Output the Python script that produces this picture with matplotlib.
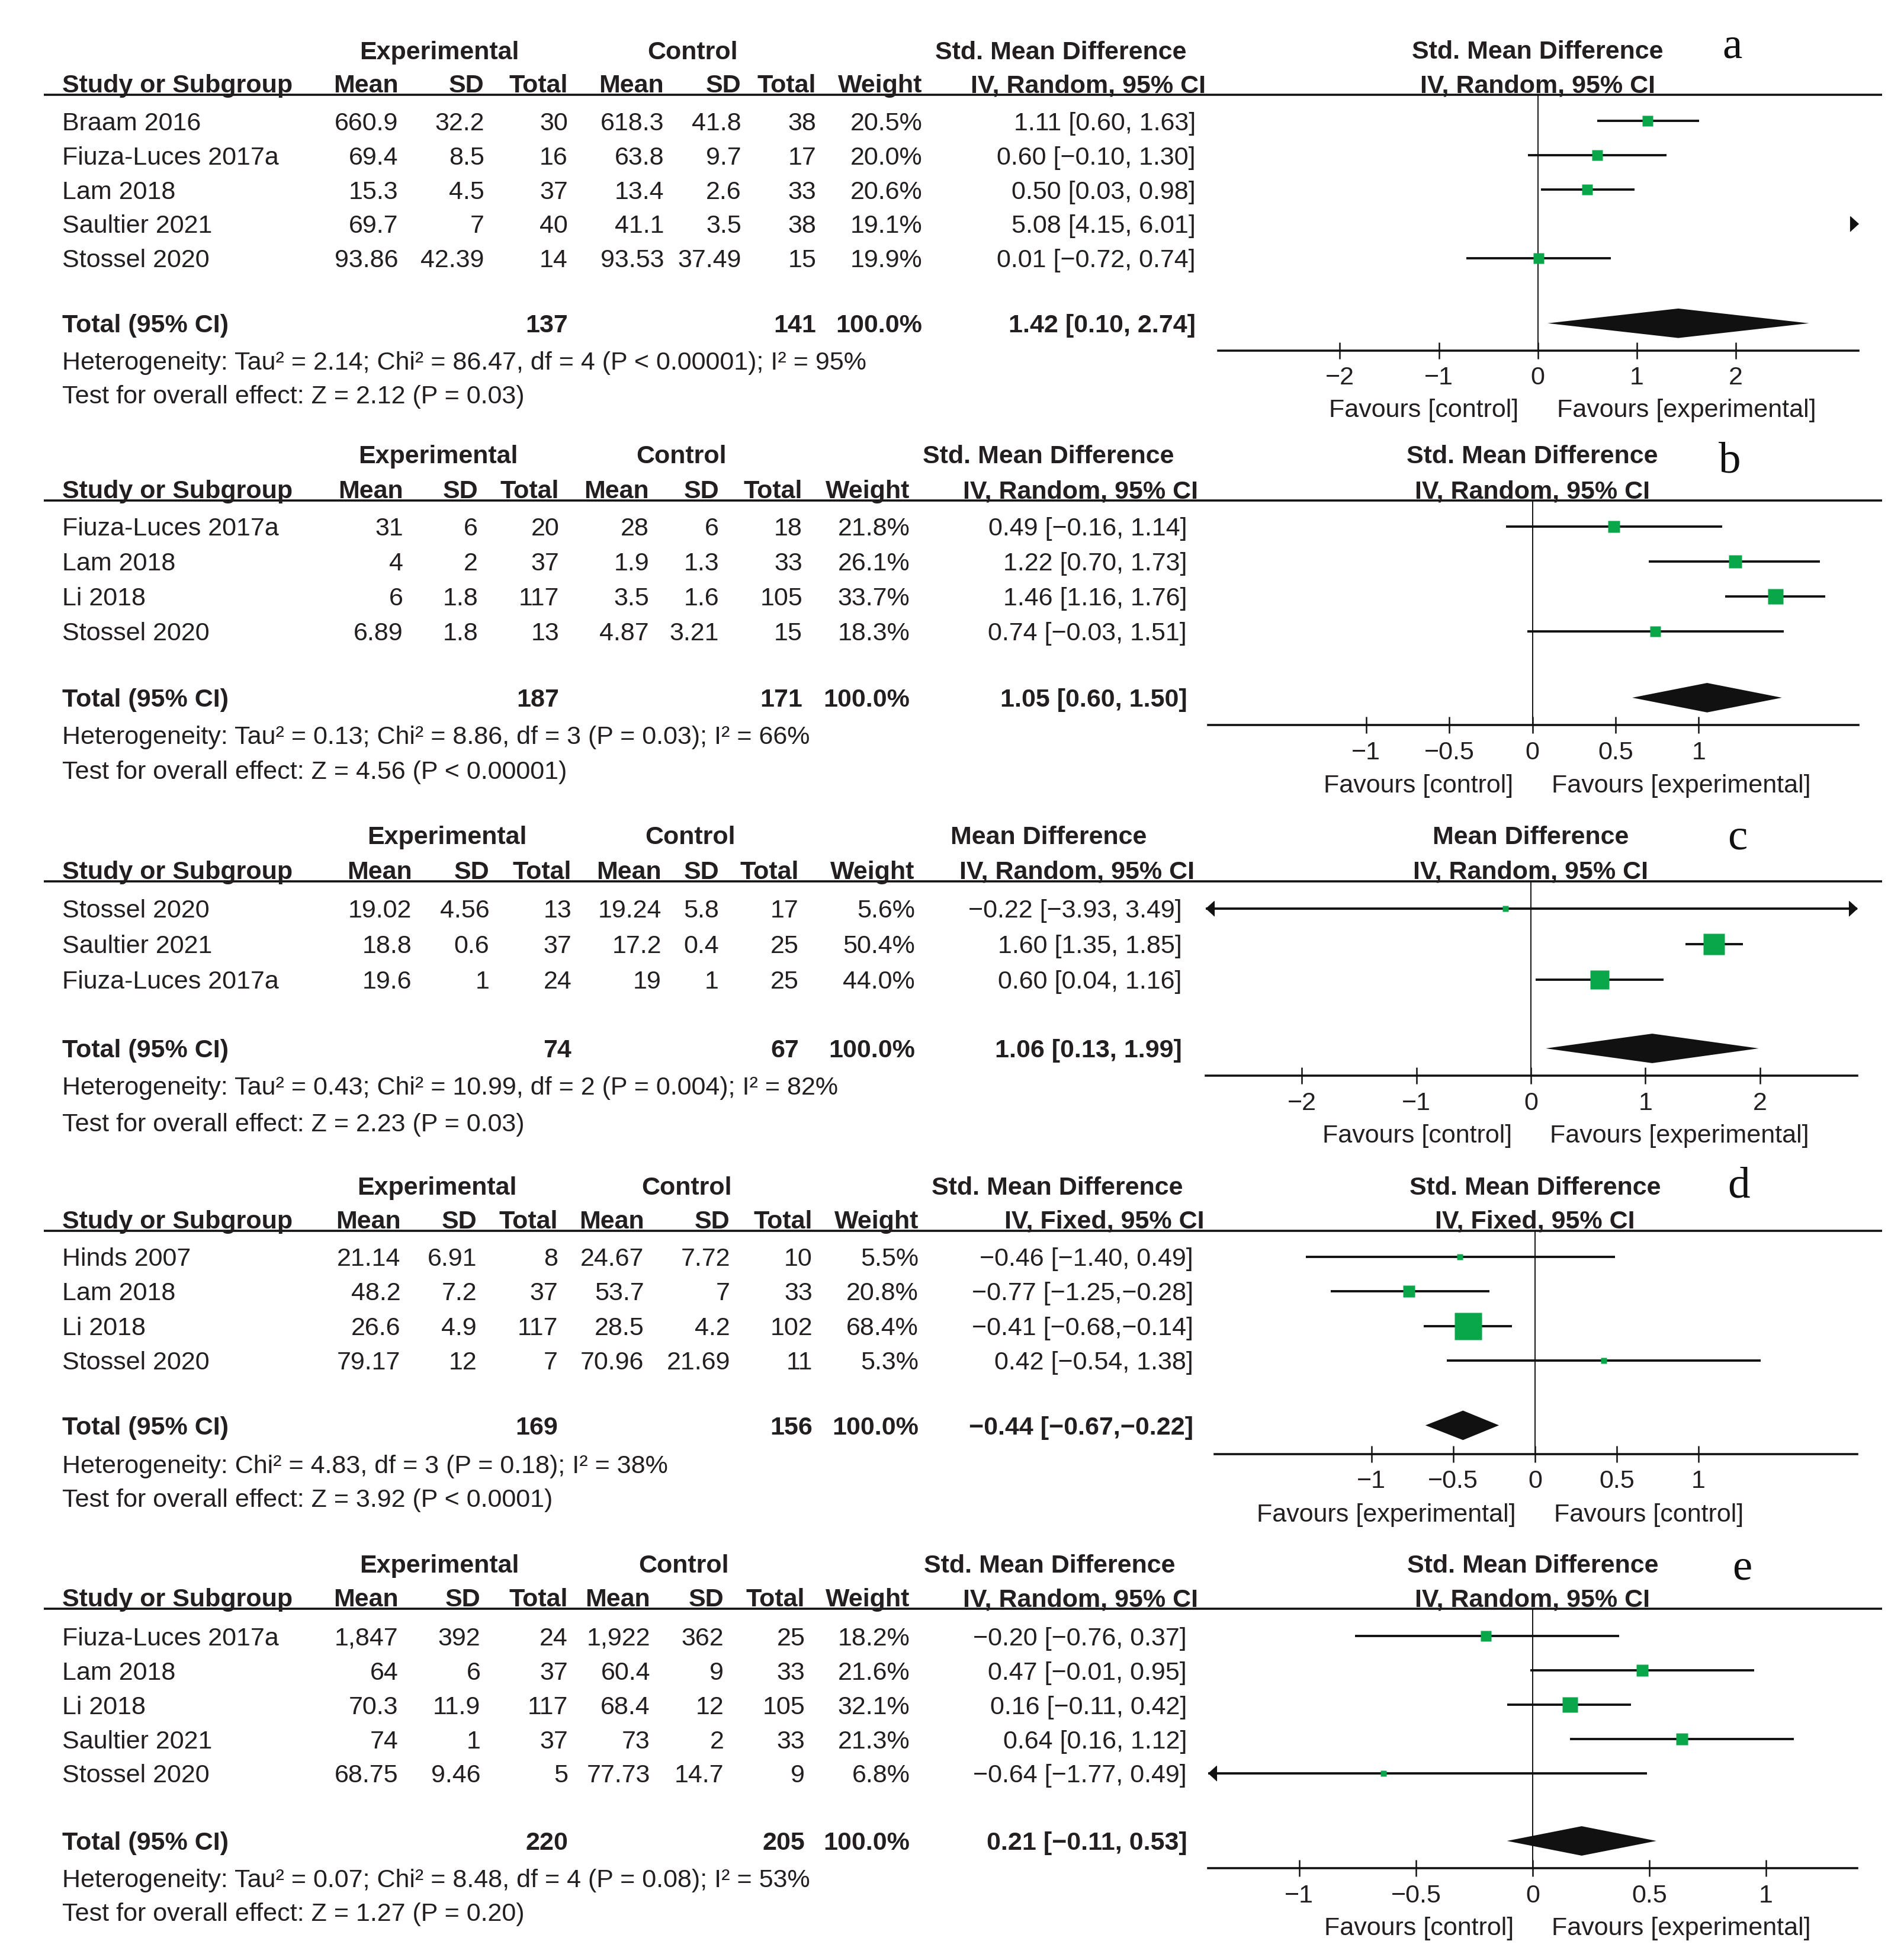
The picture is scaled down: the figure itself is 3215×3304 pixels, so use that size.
import matplotlib
matplotlib.use("Agg")
import matplotlib.pyplot as plt
import matplotlib.transforms as mtransforms
from matplotlib.patches import Polygon

plt.rcParams['font.family'] = ['Liberation Sans', 'DejaVu Sans']

# ---------------- data ----------------
# panel a
a_studies = ["Braam 2016", "Fiuza-Luces 2017a", "Lam 2018", "Saultier 2021", "Stossel 2020"]
a_exp_mean = [660.9, 69.4, 15.3, 69.7, 93.86]
a_exp_sd = [32.2, 8.5, 4.5, 7, 42.39]
a_exp_n = [30, 16, 37, 40, 14]
a_ctl_mean = [618.3, 63.8, 13.4, 41.1, 93.53]
a_ctl_sd = [41.8, 9.7, 2.6, 3.5, 37.49]
a_ctl_n = [38, 17, 33, 38, 15]
a_weight = [20.5, 20.0, 20.6, 19.1, 19.9]
a_est = [1.11, 0.60, 0.50, 5.08, 0.01]
a_lo = [0.60, -0.10, 0.03, 4.15, -0.72]
a_hi = [1.63, 1.30, 0.98, 6.01, 0.74]
a_totals = [137, 141]
a_pooled = [1.42, 0.10, 2.74]
a_het = "Heterogeneity: Tau² = 2.14; Chi² = 86.47, df = 4 (P < 0.00001); I² = 95%"
a_test = "Test for overall effect: Z = 2.12 (P = 0.03)"
a_ticks = [-2, -1, 0, 1, 2]

# panel b
b_studies = ["Fiuza-Luces 2017a", "Lam 2018", "Li 2018", "Stossel 2020"]
b_exp_mean = [31, 4, 6, 6.89]
b_exp_sd = [6, 2, 1.8, 1.8]
b_exp_n = [20, 37, 117, 13]
b_ctl_mean = [28, 1.9, 3.5, 4.87]
b_ctl_sd = [6, 1.3, 1.6, 3.21]
b_ctl_n = [18, 33, 105, 15]
b_weight = [21.8, 26.1, 33.7, 18.3]
b_est = [0.49, 1.22, 1.46, 0.74]
b_lo = [-0.16, 0.70, 1.16, -0.03]
b_hi = [1.14, 1.73, 1.76, 1.51]
b_totals = [187, 171]
b_pooled = [1.05, 0.60, 1.50]
b_het = "Heterogeneity: Tau² = 0.13; Chi² = 8.86, df = 3 (P = 0.03); I² = 66%"
b_test = "Test for overall effect: Z = 4.56 (P < 0.00001)"
b_ticks = [-1, -0.5, 0, 0.5, 1]

# panel c
c_studies = ["Stossel 2020", "Saultier 2021", "Fiuza-Luces 2017a"]
c_exp_mean = [19.02, 18.8, 19.6]
c_exp_sd = [4.56, 0.6, 1]
c_exp_n = [13, 37, 24]
c_ctl_mean = [19.24, 17.2, 19]
c_ctl_sd = [5.8, 0.4, 1]
c_ctl_n = [17, 25, 25]
c_weight = [5.6, 50.4, 44.0]
c_est = [-0.22, 1.60, 0.60]
c_lo = [-3.93, 1.35, 0.04]
c_hi = [3.49, 1.85, 1.16]
c_totals = [74, 67]
c_pooled = [1.06, 0.13, 1.99]
c_het = "Heterogeneity: Tau² = 0.43; Chi² = 10.99, df = 2 (P = 0.004); I² = 82%"
c_test = "Test for overall effect: Z = 2.23 (P = 0.03)"
c_ticks = [-2, -1, 0, 1, 2]

# panel d
d_studies = ["Hinds 2007", "Lam 2018", "Li 2018", "Stossel 2020"]
d_exp_mean = [21.14, 48.2, 26.6, 79.17]
d_exp_sd = [6.91, 7.2, 4.9, 12]
d_exp_n = [8, 37, 117, 7]
d_ctl_mean = [24.67, 53.7, 28.5, 70.96]
d_ctl_sd = [7.72, 7, 4.2, 21.69]
d_ctl_n = [10, 33, 102, 11]
d_weight = [5.5, 20.8, 68.4, 5.3]
d_est = [-0.46, -0.77, -0.41, 0.42]
d_lo = [-1.40, -1.25, -0.68, -0.54]
d_hi = [0.49, -0.28, -0.14, 1.38]
d_totals = [169, 156]
d_pooled = [-0.44, -0.67, -0.22]
d_het = "Heterogeneity: Chi² = 4.83, df = 3 (P = 0.18); I² = 38%"
d_test = "Test for overall effect: Z = 3.92 (P < 0.0001)"
d_ticks = [-1, -0.5, 0, 0.5, 1]

# panel e
e_studies = ["Fiuza-Luces 2017a", "Lam 2018", "Li 2018", "Saultier 2021", "Stossel 2020"]
e_exp_mean = [1847, 64, 70.3, 74, 68.75]
e_exp_sd = [392, 6, 11.9, 1, 9.46]
e_exp_n = [24, 37, 117, 37, 5]
e_ctl_mean = [1922, 60.4, 68.4, 73, 77.73]
e_ctl_sd = [362, 9, 12, 2, 14.7]
e_ctl_n = [25, 33, 105, 33, 9]
e_weight = [18.2, 21.6, 32.1, 21.3, 6.8]
e_est = [-0.20, 0.47, 0.16, 0.64, -0.64]
e_lo = [-0.76, -0.01, -0.11, 0.16, -1.77]
e_hi = [0.37, 0.95, 0.42, 1.12, 0.49]
e_totals = [220, 205]
e_pooled = [0.21, -0.11, 0.53]
e_het = "Heterogeneity: Tau² = 0.07; Chi² = 8.48, df = 4 (P = 0.08); I² = 53%"
e_test = "Test for overall effect: Z = 1.27 (P = 0.20)"
e_ticks = [-1, -0.5, 0, 0.5, 1]

total_weight = 100.0
fav_ce = ("Favours [control]", "Favours [experimental]")
fav_ec = ("Favours [experimental]", "Favours [control]")

panels = [
    dict(letter="a", measure="Std. Mean Difference", method="IV, Random, 95% CI", fav=fav_ce,
         studies=a_studies, cols=[a_exp_mean, a_exp_sd, a_exp_n, a_ctl_mean, a_ctl_sd, a_ctl_n],
         weight=a_weight, est=a_est, lo=a_lo, hi=a_hi, totals=a_totals, pooled=a_pooled,
         het=a_het, test=a_test, ticks=a_ticks),
    dict(letter="b", measure="Std. Mean Difference", method="IV, Random, 95% CI", fav=fav_ce,
         studies=b_studies, cols=[b_exp_mean, b_exp_sd, b_exp_n, b_ctl_mean, b_ctl_sd, b_ctl_n],
         weight=b_weight, est=b_est, lo=b_lo, hi=b_hi, totals=b_totals, pooled=b_pooled,
         het=b_het, test=b_test, ticks=b_ticks),
    dict(letter="c", measure="Mean Difference", method="IV, Random, 95% CI", fav=fav_ce,
         studies=c_studies, cols=[c_exp_mean, c_exp_sd, c_exp_n, c_ctl_mean, c_ctl_sd, c_ctl_n],
         weight=c_weight, est=c_est, lo=c_lo, hi=c_hi, totals=c_totals, pooled=c_pooled,
         het=c_het, test=c_test, ticks=c_ticks),
    dict(letter="d", measure="Std. Mean Difference", method="IV, Fixed, 95% CI", fav=fav_ec,
         studies=d_studies, cols=[d_exp_mean, d_exp_sd, d_exp_n, d_ctl_mean, d_ctl_sd, d_ctl_n],
         weight=d_weight, est=d_est, lo=d_lo, hi=d_hi, totals=d_totals, pooled=d_pooled,
         het=d_het, test=d_test, ticks=d_ticks),
    dict(letter="e", measure="Std. Mean Difference", method="IV, Random, 95% CI", fav=fav_ce,
         studies=e_studies, cols=[e_exp_mean, e_exp_sd, e_exp_n, e_ctl_mean, e_ctl_sd, e_ctl_n],
         weight=e_weight, est=e_est, lo=e_lo, hi=e_hi, totals=e_totals, pooled=e_pooled,
         het=e_het, test=e_test, ticks=e_ticks),
]

# ---------------- layout (reference pixels, 1526 x 1568 grid) ----------------
W, H = 1526.0, 1568.0
layouts = [
    dict(h1=40, h2=67, line=76, row0=97, step=27.5, total=259, het=289, test=316, axis=281, fav=327,
         ax_x=(976, 1489), xlim=(-3.23, 3.24), centers=(352, 555, 850),
         colx=[319, 388, 455, 532, 594, 654, 739, 958], ci_hdr=966, letter_xy=(1388, 38)),
    dict(h1=364, h2=392, line=401, row0=422, step=28, total=559, het=589, test=617, axis=581, fav=628,
         ax_x=(968, 1489), xlim=(-1.95, 1.96), centers=(351, 546, 840),
         colx=[323, 383, 448, 520, 576, 643, 729, 951], ci_hdr=960, letter_xy=(1386, 370)),
    dict(h1=669, h2=697, line=706, row0=728, step=28.5, total=840, het=870, test=899, axis=862, fav=908,
         ax_x=(966, 1488), xlim=(-2.84, 2.85), centers=(358, 553, 840),
         colx=[330, 392, 458, 530, 576, 640, 733, 947], ci_hdr=957, letter_xy=(1392, 672)),
    dict(h1=950, h2=977, line=986, row0=1007, step=27.7, total=1142, het=1173, test=1200, axis=1165, fav=1212,
         ax_x=(973, 1488), xlim=(-1.96, 1.97), centers=(350, 550, 847),
         colx=[321, 382, 447, 516, 585, 651, 736, 956], ci_hdr=965, letter_xy=(1393, 951)),
    dict(h1=1253, h2=1280, line=1289, row0=1311, step=27.5, total=1475, het=1505, test=1532, axis=1497, fav=1543,
         ax_x=(968, 1488), xlim=(-1.39, 1.39), centers=(352, 548, 841),
         colx=[319, 385, 455, 521, 580, 645, 729, 951], ci_hdr=960, letter_xy=(1396, 1257)),
]

FS = 31
DY = 2                 # text baseline nudge, layout units
TXT = '#231f20'
GREEN = '#0aa64a'
PT = 100 / 72.0        # pixels per point at dpi 100


def fmt_num(v):
    v = float(v)
    if v.is_integer():
        return f"{int(v):,}"
    return repr(v)


def fmt_ci(e, l, h):
    sep = "," if h < 0 else ", "
    s = f"{e:.2f} [{l:.2f}{sep}{h:.2f}]"
    return s.replace("-", "\u2212")


def fmt_tick(v):
    return f"{v:g}".replace("-", "\u2212")


fig = plt.figure(figsize=(32.16, 33.04), dpi=100)
canvas = fig.add_axes([0, 0, 1, 1])
canvas.set_xlim(0, W)
canvas.set_ylim(H, 0)
canvas.axis('off')


def put(x, y, s, ha='left', bold=False):
    canvas.text(x, y + DY, s, ha=ha, va='center', fontsize=FS, color=TXT,
                fontweight='bold' if bold else 'normal')


# arrowheads with the tip at the marker position
arrow_left = [(0, 0), (1.1, 1), (1.1, -1)]
arrow_right = [(0, 0), (-1.1, 1), (-1.1, -1)]

for p, L in zip(panels, layouts):
    # ---- table part ----
    y1, y2 = L['h1'], L['h2']
    cx = L['centers']
    put(cx[0], y1, "Experimental", ha='center', bold=True)
    put(cx[1], y1, "Control", ha='center', bold=True)
    put(cx[2], y1, p['measure'], ha='center', bold=True)
    put(50, y2, "Study or Subgroup", bold=True)
    for lab, x in zip(["Mean", "SD", "Total", "Mean", "SD", "Total", "Weight"], L['colx'][:7]):
        put(x, y2, lab, ha='right', bold=True)
    put(L['ci_hdr'], y2, p['method'], ha='right', bold=True)
    canvas.plot([35, 1508], [L['line'], L['line']], color='#111111', lw=2.6, solid_capstyle='butt')

    n = len(p['studies'])
    rows_y = [L['row0'] + i * L['step'] for i in range(n)]
    for i, y in enumerate(rows_y):
        put(50, y, p['studies'][i])
        for col, x in zip(p['cols'], L['colx'][:6]):
            put(x, y, fmt_num(col[i]), ha='right')
        put(L['colx'][6], y, f"{p['weight'][i]:.1f}%", ha='right')
        put(L['colx'][7], y, fmt_ci(p['est'][i], p['lo'][i], p['hi'][i]), ha='right')

    yt = L['total']
    put(50, yt, "Total (95% CI)", bold=True)
    put(L['colx'][2], yt, str(p['totals'][0]), ha='right', bold=True)
    put(L['colx'][5], yt, str(p['totals'][1]), ha='right', bold=True)
    put(L['colx'][6], yt, f"{total_weight:.1f}%", ha='right', bold=True)
    put(L['colx'][7], yt, fmt_ci(*p['pooled']), ha='right', bold=True)
    put(50, L['het'], p['het'])
    put(50, L['test'], p['test'])
    lx, ly = L['letter_xy']
    canvas.text(lx, ly, p['letter'], ha='center', va='center', fontsize=54, color='#111111',
                family=['Liberation Serif', 'DejaVu Serif'])

    # ---- forest part ----
    x0, x1 = L['ax_x']
    ax = fig.add_axes([x0 / W, 1 - L['axis'] / H, (x1 - x0) / W, (L['axis'] - L['line']) / H])
    ax.patch.set_alpha(0)
    xmin, xmax = L['xlim']
    ax.set_xlim(xmin, xmax)
    ax.set_ylim(L['axis'], L['line'])
    for s in ['top', 'left', 'right']:
        ax.spines[s].set_visible(False)
    ax.spines['bottom'].set_linewidth(2.6)
    ax.spines['bottom'].set_color('#111111')
    ax.set_yticks([])
    ax.set_xticks(p['ticks'])
    ax.set_xticklabels([fmt_tick(t) for t in p['ticks']])
    ax.tick_params(axis='x', direction='inout', length=20, width=1.8, pad=9, labelsize=FS,
                   labelcolor=TXT, color='#111111')
    ax.axvline(0, color='#111111', lw=1.4)

    for i, y in enumerate(rows_y):
        lo, hi, est = p['lo'][i], p['hi'][i], p['est'][i]
        c0, c1 = max(lo, xmin), min(hi, xmax)
        if c0 < c1:
            ax.plot([c0, c1], [y, y], color='#111111', lw=2.8, solid_capstyle='butt', clip_on=False)
        if lo < xmin:
            ax.plot([xmin], [y], marker=arrow_left, ms=20, color='#111111', clip_on=False)
        if hi > xmax:
            ax.plot([xmax], [y], marker=arrow_right, ms=20, color='#111111', clip_on=False)
        if xmin <= est <= xmax:
            side = (7 + 0.58 * p['weight'][i]) / PT
            ax.plot([est], [y], marker='s', ms=side, color=GREEN, mec='none', clip_on=False, zorder=3)

    pe, pl, ph = p['pooled']
    hh = 11.8
    ax.add_patch(Polygon([(pl, yt), (pe, yt - hh), (ph, yt), (pe, yt + hh)], closed=True,
                         facecolor='#111111', edgecolor='none', zorder=3))

    # right-hand headers centred on the null line
    ax.text(0, y1 + DY, p['measure'], ha='center', va='center', fontsize=FS, fontweight='bold',
            color=TXT, clip_on=False)
    ax.text(0, y2 + DY, p['method'], ha='center', va='center', fontsize=FS, fontweight='bold',
            color=TXT, clip_on=False)
    left_tr = mtransforms.offset_copy(ax.transData, fig=fig, x=-32, y=0, units='dots')
    right_tr = mtransforms.offset_copy(ax.transData, fig=fig, x=32, y=0, units='dots')
    ax.text(0, L['fav'] + DY, p['fav'][0], transform=left_tr, ha='right', va='center', fontsize=FS,
            color=TXT, clip_on=False)
    ax.text(0, L['fav'] + DY, p['fav'][1], transform=right_tr, ha='left', va='center', fontsize=FS,
            color=TXT, clip_on=False)

fig.savefig("out.png", dpi=100, facecolor='white')
